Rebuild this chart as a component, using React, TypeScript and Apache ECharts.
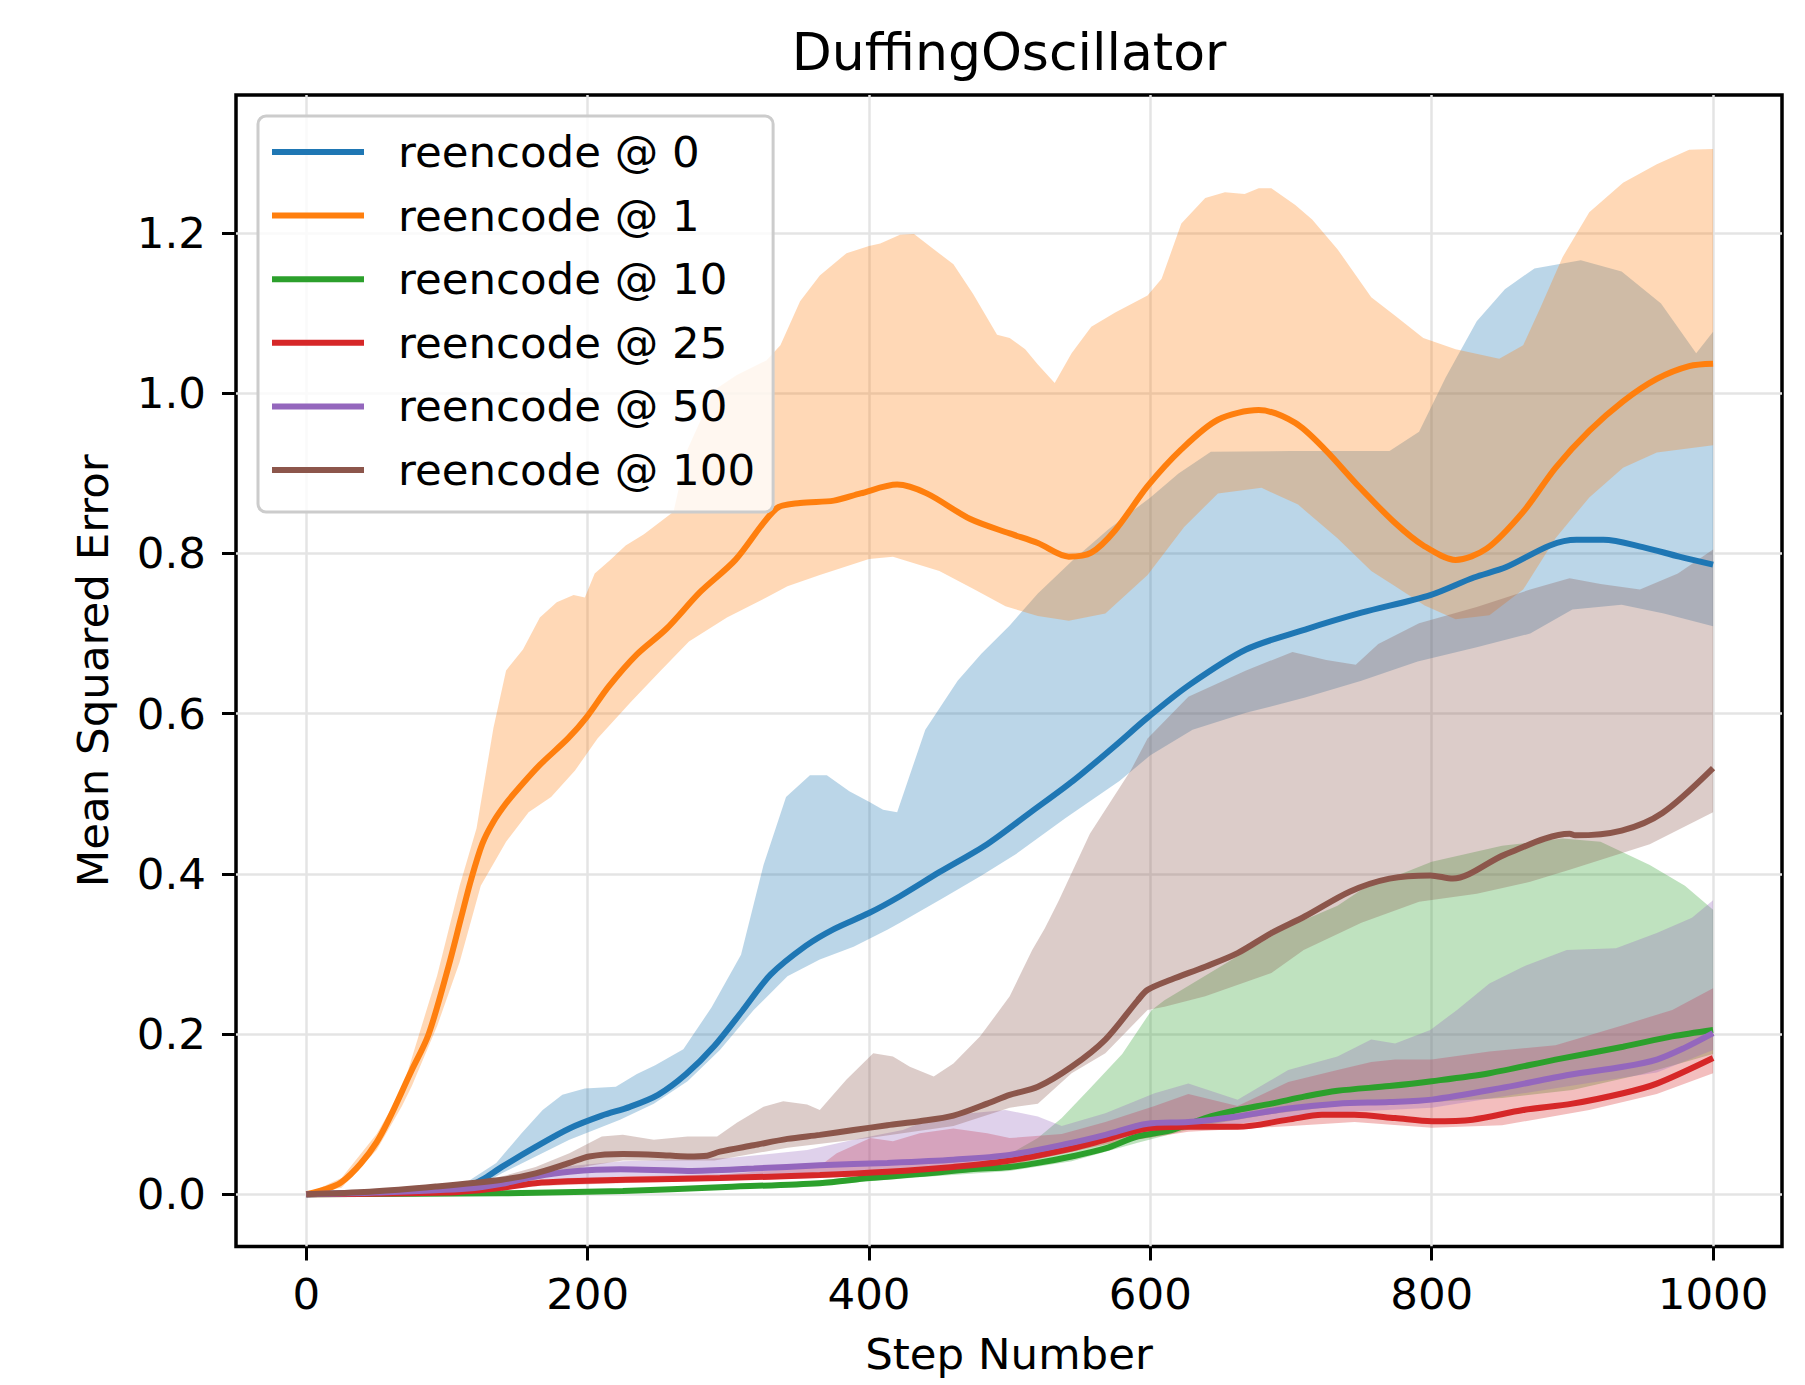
import React, { useEffect, useRef } from "react";
import * as echarts from "echarts";

type P = [number, number];

const seriesNames = ["reencode @ 0", "reencode @ 1", "reencode @ 10", "reencode @ 25", "reencode @ 50", "reencode @ 100"];
const xTicks = [0, 200, 400, 600, 800, 1000];
const yTicks = [0, 0.2, 0.4, 0.6, 0.8, 1.0, 1.2];

// reencode @ 0 (blue)
const blueMean: P[] = [[0,0],[50,0.002],[100,0.006],[115,0.01],[125,0.018],[139,0.034],[163,0.059],[187,0.082],[210,0.098],[230,0.109],[250,0.124],[270,0.15],[290,0.185],[310,0.229],[330,0.274],[355,0.31],[375,0.331],[400,0.351],[422,0.372],[450,0.402],[484,0.437],[515,0.477],[545,0.516],[575,0.56],[598,0.595],[627,0.635],[668,0.68],[710,0.705],[750,0.726],[799,0.748],[830,0.77],[853,0.783],[884,0.81],[903,0.817],[922,0.817],[950,0.808],[976,0.796],[1000,0.786]];
const blueUpper: P[] = [[0,0],[50,0.006],[100,0.011],[115,0.016],[135,0.039],[153,0.076],[168,0.105],[182,0.124],[198,0.132],[220,0.134],[235,0.15],[248,0.161],[268,0.181],[288,0.233],[309,0.299],[325,0.411],[341,0.496],[358,0.523],[370,0.523],[386,0.503],[400,0.49],[410,0.48],[420,0.477],[440,0.58],[463,0.641],[480,0.675],[500,0.71],[520,0.75],[545,0.792],[570,0.83],[600,0.87],[620,0.9],[643,0.927],[700,0.928],[770,0.928],[791,0.952],[810,1.02],[832,1.09],[852,1.13],[873,1.156],[906,1.166],[935,1.152],[963,1.112],[988,1.05],[1000,1.077]];
const blueLower: P[] = [[0,0],[100,0.004],[125,0.012],[139,0.026],[187,0.068],[223,0.093],[247,0.113],[271,0.141],[294,0.18],[318,0.23],[342,0.272],[365,0.293],[389,0.309],[413,0.33],[422,0.339],[453,0.37],[480,0.398],[504,0.424],[540,0.47],[578,0.516],[600,0.548],[630,0.58],[668,0.601],[710,0.62],[750,0.641],[790,0.665],[832,0.683],[870,0.7],[900,0.73],[935,0.736],[965,0.725],[1000,0.709]];

// reencode @ 1 (orange)
const orangeMean: P[] = [[0,0],[25,0.015],[50,0.065],[75,0.155],[87,0.2],[101,0.284],[110,0.345],[117,0.392],[125,0.437],[133,0.465],[142,0.488],[150,0.505],[166,0.536],[186,0.569],[199,0.595],[215,0.634],[235,0.674],[256,0.706],[280,0.752],[305,0.792],[334,0.856],[351,0.863],[375,0.866],[394,0.875],[420,0.886],[441,0.875],[472,0.843],[500,0.825],[520,0.813],[542,0.796],[558,0.801],[575,0.829],[598,0.884],[622,0.93],[648,0.967],[677,0.979],[703,0.963],[724,0.93],[748,0.884],[774,0.838],[794,0.81],[817,0.792],[839,0.806],[865,0.852],[888,0.907],[912,0.953],[936,0.99],[960,1.018],[983,1.034],[1000,1.037]];
const orangeUpper: P[] = [[0,0],[25,0.02],[50,0.075],[68,0.13],[93,0.273],[109,0.385],[121,0.457],[133,0.582],[142,0.654],[154,0.68],[166,0.72],[178,0.739],[190,0.748],[198,0.745],[205,0.775],[216,0.792],[227,0.81],[240,0.824],[261,0.852],[271,0.93],[290,1.004],[306,1.023],[327,1.041],[337,1.06],[351,1.115],[365,1.147],[384,1.175],[400,1.184],[408,1.187],[422,1.198],[432,1.199],[446,1.18],[460,1.161],[474,1.124],[491,1.073],[500,1.069],[511,1.055],[520,1.036],[532,1.013],[544,1.05],[558,1.083],[575,1.101],[598,1.122],[608,1.143],[622,1.212],[639,1.244],[653,1.251],[667,1.249],[677,1.256],[686,1.256],[703,1.235],[715,1.217],[733,1.18],[757,1.12],[774,1.097],[794,1.069],[817,1.055],[848,1.043],[865,1.06],[877,1.106],[893,1.17],[912,1.226],[936,1.263],[960,1.286],[983,1.304],[1000,1.305]];
const orangeLower: P[] = [[0,0],[25,0.008],[50,0.055],[68,0.11],[75,0.135],[93,0.21],[109,0.29],[124,0.385],[142,0.44],[158,0.477],[174,0.496],[191,0.529],[207,0.569],[231,0.615],[252,0.654],[272,0.69],[299,0.72],[327,0.745],[342,0.759],[365,0.773],[400,0.793],[417,0.796],[450,0.778],[475,0.755],[497,0.734],[520,0.722],[542,0.716],[568,0.725],[598,0.773],[624,0.833],[648,0.875],[679,0.882],[705,0.861],[733,0.819],[757,0.778],[774,0.759],[795,0.735],[817,0.718],[841,0.723],[865,0.755],[888,0.819],[912,0.87],[936,0.907],[960,0.926],[1000,0.935]];

// reencode @ 10 (green)
const greenMean: P[] = [[0,0],[139,0.001],[225,0.004],[294,0.0087],[365,0.0137],[400,0.02],[436,0.025],[472,0.031],[500,0.034],[520,0.039],[544,0.047],[568,0.057],[591,0.072],[615,0.08],[639,0.095],[662,0.105],[686,0.113],[710,0.122],[733,0.129],[770,0.135],[800,0.141],[841,0.151],[888,0.168],[936,0.184],[971,0.197],[1000,0.205]];
const greenUpper: P[] = [[0,0],[139,0.002],[225,0.006],[300,0.011],[365,0.017],[400,0.024],[436,0.03],[472,0.037],[500,0.05],[520,0.07],[537,0.095],[556,0.13],[580,0.175],[601,0.23],[610,0.242],[662,0.297],[698,0.334],[733,0.36],[750,0.38],[800,0.415],[850,0.435],[893,0.444],[920,0.44],[955,0.411],[980,0.385],[1000,0.355]];
const greenLower: P[] = [[0,0],[225,0.003],[365,0.011],[436,0.021],[500,0.029],[544,0.041],[591,0.064],[639,0.086],[686,0.1],[733,0.11],[800,0.115],[850,0.12],[900,0.13],[950,0.15],[1000,0.175]];

// reencode @ 25 (red)
const redMean: P[] = [[0,0],[100,0.002],[139,0.008],[163,0.0137],[187,0.016],[227,0.018],[294,0.02],[365,0.024],[413,0.028],[460,0.034],[497,0.041],[544,0.057],[568,0.068],[598,0.082],[627,0.084],[662,0.084],[698,0.093],[722,0.099],[745,0.099],[774,0.095],[800,0.091],[829,0.093],[865,0.105],[900,0.113],[936,0.126],[960,0.138],[1000,0.17]];
const redUpper: P[] = [[0,0],[139,0.011],[187,0.02],[227,0.022],[300,0.025],[365,0.035],[377,0.051],[401,0.07],[417,0.066],[436,0.076],[460,0.082],[484,0.076],[500,0.07],[537,0.075],[568,0.09],[603,0.11],[627,0.125],[662,0.11],[698,0.14],[733,0.155],[757,0.165],[774,0.168],[800,0.168],[841,0.178],[888,0.186],[936,0.211],[971,0.23],[1000,0.257]];
const redLower: P[] = [[0,0],[163,0.01],[227,0.014],[365,0.02],[460,0.029],[500,0.036],[568,0.062],[627,0.078],[700,0.085],[745,0.09],[800,0.083],[850,0.086],[912,0.105],[960,0.125],[1000,0.151]];

// reencode @ 50 (purple)
const purpleMean: P[] = [[0,0],[50,0.002],[115,0.007],[139,0.013],[163,0.022],[187,0.028],[223,0.031],[271,0.029],[318,0.032],[365,0.036],[413,0.039],[460,0.043],[500,0.049],[544,0.064],[568,0.074],[598,0.088],[627,0.09],[662,0.097],[698,0.107],[733,0.113],[770,0.115],[800,0.118],[848,0.132],[898,0.149],[936,0.159],[960,0.168],[979,0.182],[1000,0.201]];
const purpleUpper: P[] = [[0,0],[100,0.008],[139,0.018],[187,0.035],[225,0.041],[300,0.045],[356,0.055],[389,0.068],[424,0.08],[448,0.097],[472,0.101],[497,0.105],[520,0.097],[537,0.085],[568,0.101],[603,0.126],[627,0.138],[662,0.118],[698,0.155],[733,0.172],[757,0.193],[774,0.188],[799,0.205],[818,0.23],[841,0.263],[865,0.284],[896,0.305],[931,0.307],[960,0.326],[985,0.345],[1000,0.367]];
const purpleLower: P[] = [[0,0],[115,0.004],[163,0.015],[223,0.022],[318,0.024],[413,0.03],[500,0.04],[568,0.065],[598,0.078],[662,0.088],[733,0.102],[800,0.108],[898,0.135],[960,0.152],[1000,0.18]];

// reencode @ 100 (brown)
const brownMean: P[] = [[0,0],[45,0.003],[92,0.0095],[139,0.018],[163,0.026],[187,0.039],[201,0.047],[225,0.05],[250,0.049],[271,0.047],[285,0.048],[294,0.053],[318,0.061],[342,0.069],[365,0.074],[389,0.08],[413,0.086],[436,0.091],[460,0.098],[484,0.113],[500,0.124],[520,0.134],[544,0.159],[568,0.193],[591,0.242],[598,0.255],[615,0.268],[639,0.284],[662,0.301],[686,0.326],[710,0.347],[742,0.378],[770,0.394],[799,0.398],[815,0.394],[852,0.424],[898,0.45],[902,0.448],[935,0.454],[964,0.476],[1000,0.532]];
const brownUpper: P[] = [[0,0],[50,0.003],[100,0.012],[139,0.022],[163,0.034],[187,0.051],[210,0.072],[225,0.074],[247,0.068],[271,0.072],[292,0.072],[306,0.089],[325,0.109],[339,0.116],[356,0.112],[365,0.105],[384,0.143],[403,0.176],[417,0.172],[429,0.159],[446,0.147],[460,0.163],[479,0.197],[500,0.247],[516,0.305],[525,0.332],[535,0.367],[557,0.45],[586,0.529],[598,0.569],[627,0.621],[668,0.654],[701,0.677],[725,0.667],[746,0.661],[762,0.687],[791,0.713],[832,0.733],[870,0.755],[898,0.769],[920,0.762],[948,0.755],[975,0.775],[1000,0.805]];
const brownLower: P[] = [[0,0],[100,0.005],[150,0.012],[200,0.035],[225,0.042],[290,0.042],[342,0.058],[400,0.07],[460,0.085],[500,0.108],[520,0.113],[544,0.151],[568,0.176],[598,0.23],[610,0.234],[639,0.247],[686,0.276],[709,0.305],[750,0.339],[791,0.365],[832,0.375],[870,0.39],[898,0.405],[955,0.437],[1000,0.477]];

const colors = ["#1f77b4", "#ff7f0e", "#2ca02c", "#d62728", "#9467bd", "#8c564b"];
const bandFills = ["rgba(31,119,180,0.3)", "rgba(255,127,14,0.3)", "rgba(44,160,44,0.3)", "rgba(214,39,40,0.3)", "rgba(148,103,189,0.3)", "rgba(140,86,75,0.3)"];

const means = [blueMean, orangeMean, greenMean, redMean, purpleMean, brownMean];
const uppers = [blueUpper, orangeUpper, greenUpper, redUpper, purpleUpper, brownUpper];
const lowers = [blueLower, orangeLower, greenLower, redLower, purpleLower, brownLower];

const FONT = "DejaVu Sans";
const FS = 43.5;

export default function App() {
  const ref = useRef<HTMLDivElement>(null);
  useEffect(() => {
    if (!ref.current) return;
    const chart = echarts.init(ref.current, undefined, { renderer: "svg" });
    const bandSeries = uppers.map((up, i) => ({
      type: "custom",
      silent: true,
      z: 1,
      data: [[0, 0]],
      renderItem: (params: any, api: any) => {
        const pts = up.map((p) => api.coord(p)).concat(lowers[i].slice().reverse().map((p) => api.coord(p)));
        return { type: "polygon", shape: { points: pts }, style: { fill: bandFills[i] } };
      },
    }));
    const lineSeries = means.map((m, i) => ({
      type: "line",
      name: seriesNames[i],
      data: m,
      z: 3,
      symbol: "none",
      showSymbol: false,
      smooth: 0.3,
      color: colors[i],
      lineStyle: { width: 6, color: colors[i] },
    }));
    chart.setOption({
      animation: false,
      backgroundColor: "#ffffff",
      grid: { left: 236, top: 95, width: 1546, height: 1151.5, show: true, borderColor: "#000", borderWidth: 3.5, backgroundColor: "transparent" },
      xAxis: {
        type: "value", min: -50, max: 1049,
        axisLine: { show: false, onZero: false },
        axisTick: { show: true, customValues: xTicks, length: 14, lineStyle: { color: "#000", width: 3 } },
        axisLabel: { customValues: xTicks, fontSize: FS, color: "#000", fontFamily: FONT, margin: 25, formatter: (v: number) => String(v) },
        splitLine: { show: true, lineStyle: { color: "#e4e4e4", width: 2.5 } },
        name: "Step Number", nameLocation: "middle", nameGap: 85,
        nameTextStyle: { fontSize: FS, color: "#000", fontFamily: FONT },
      },
      yAxis: {
        type: "value", min: -0.0654, max: 1.3725,
        axisLine: { show: false, onZero: false },
        axisTick: { show: true, customValues: yTicks, length: 14, lineStyle: { color: "#000", width: 3 } },
        axisLabel: { customValues: yTicks, fontSize: FS, color: "#000", fontFamily: FONT, margin: 30, formatter: (v: number) => v.toFixed(1) },
        splitLine: { show: true, lineStyle: { color: "#e4e4e4", width: 2.5 } },
        name: "Mean Squared Error", nameLocation: "middle", nameGap: 121, nameRotate: 90,
        nameTextStyle: { fontSize: FS, color: "#000", fontFamily: FONT },
      },
      legend: {
        data: seriesNames, orient: "vertical", left: 258, top: 116,
        padding: [13, 18, 19, 14],
        itemWidth: 92, itemHeight: 6, itemGap: 17.6, icon: "rect",
        backgroundColor: "rgba(255,255,255,0.8)", borderColor: "#cccccc", borderWidth: 3, borderRadius: 8,
        textStyle: { fontSize: FS, color: "#000", fontFamily: FONT, lineHeight: 46, padding: [0, 0, 0, 29] },
      },
      graphic: [
        { type: "text", x: 1009, y: 52, style: { text: "DuffingOscillator", font: `52px "${FONT}"`, fill: "#000", textAlign: "center", textVerticalAlign: "middle" } },
      ],
      series: [...bandSeries, ...lineSeries],
    });
    return () => chart.dispose();
  }, []);
  return <div ref={ref} style={{ position: "fixed", left: 0, top: 0, width: 1805, height: 1385, background: "#fff" }} />;
}
